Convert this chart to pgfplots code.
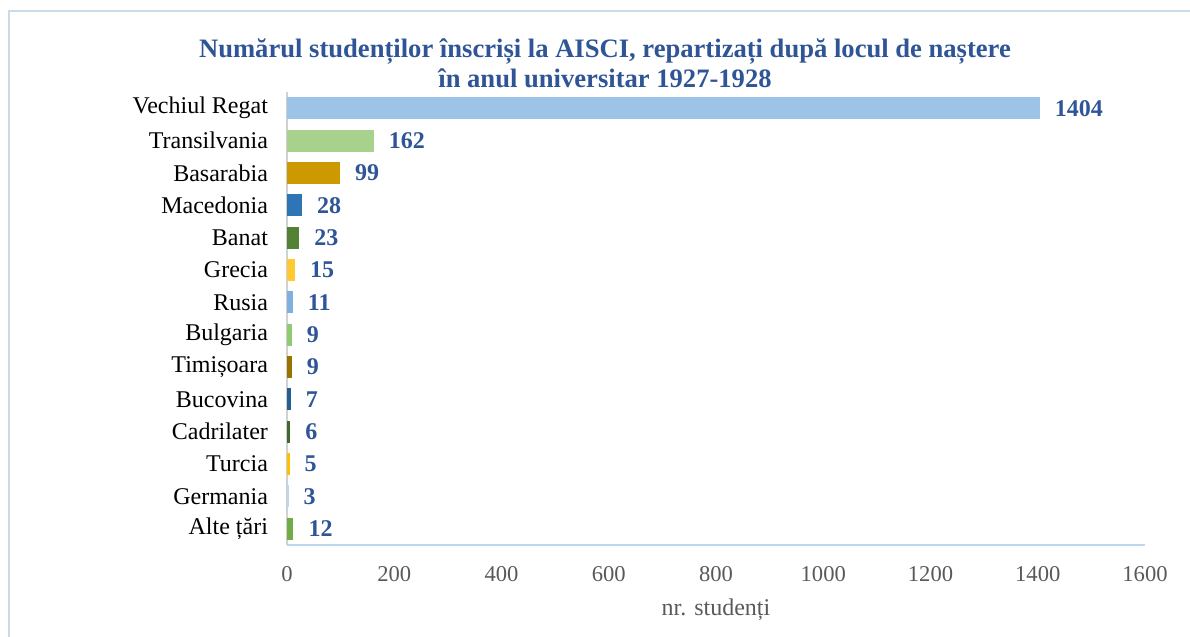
\documentclass[border=0pt]{standalone}
\usepackage{pgfplots}
\pgfplotsset{compat=1.18}
\usepackage{fontspec}
\setmainfont{Liberation Serif}
\definecolor{lbl}{HTML}{2F5597}
\definecolor{tick}{HTML}{595959}
\definecolor{frame}{HTML}{C9DAEA}
\definecolor{c1}{HTML}{9DC3E6}
\definecolor{c2}{HTML}{A9D18E}
\definecolor{c3}{HTML}{CC9900}
\definecolor{c4}{HTML}{2E75B6}
\definecolor{c5}{HTML}{548235}
\definecolor{c6}{HTML}{FFC933}
\definecolor{c7}{HTML}{7EB0E0}
\definecolor{c8}{HTML}{8FCB70}
\definecolor{c9}{HTML}{997300}
\definecolor{c10}{HTML}{255E91}
\definecolor{c11}{HTML}{43682B}
\definecolor{c12}{HTML}{FFC000}
\definecolor{c13}{HTML}{BDD7EE}
\definecolor{c14}{HTML}{70AD47}
\begin{document}
\begin{tikzpicture}
\useasboundingbox (0,0) rectangle (595pt,318.5pt);
\draw[frame, line width=1pt] (4.5pt,0) -- (4.5pt,313pt) -- (595pt,313pt);
\node[align=center, font=\fontsize{13.3}{15}\selectfont\bfseries, text=lbl] at (302.5pt,287pt)
 {Numărul studenților înscriși la AISCI, repartizați după locul de naștere\\în anul universitar 1927-1928};
\begin{axis}[
  at={(143.5pt,46pt)}, anchor=south west,
  scale only axis, width=429pt, height=226.5pt,
  xbar, bar width=0.68,
  xmin=0, xmax=1600,
  ymin=-0.5, ymax=13.5,
  axis x line*=bottom, axis y line*=left,
  x axis line style={draw=c13, line width=0.8pt, -},
  y axis line style={draw=black!18, line width=0.8pt, -},
  xtick={0,200,...,1600},
  ytick={0,...,13},
  yticklabels={Alte țări,Germania,Turcia,Cadrilater,Bucovina,Timișoara,Bulgaria,Rusia,Grecia,Banat,Macedonia,Basarabia,Transilvania,Vechiul Regat},
  major tick length=0pt,
  tick style={draw=none},
  /pgf/number format/assume math mode=true,
  /pgf/number format/1000 sep={},
  xticklabel style={font=\fontsize{11.3}{13}\selectfont, text=tick, yshift=-7pt},
  yticklabel style={font=\fontsize{12}{14}\selectfont, text=black, xshift=-6pt},
  xlabel={nr. studenți},
  xlabel style={font=\fontsize{12}{14}\selectfont, text=tick, yshift=-2pt},
  nodes near coords,
  every node near coord/.append style={font=\fontsize{12}{14}\selectfont\bfseries, text=lbl, anchor=west, xshift=4pt},
  point meta=explicit symbolic,
  clip=false,
]
\addplot[bar shift=0pt, fill=c1, draw=none] coordinates {(1404,13) [1404]};
\addplot[bar shift=0pt, fill=c2, draw=none] coordinates {(162,12) [162]};
\addplot[bar shift=0pt, fill=c3, draw=none] coordinates {(99,11) [99]};
\addplot[bar shift=0pt, fill=c4, draw=none] coordinates {(28,10) [28]};
\addplot[bar shift=0pt, fill=c5, draw=none] coordinates {(23,9) [23]};
\addplot[bar shift=0pt, fill=c6, draw=none] coordinates {(15,8) [15]};
\addplot[bar shift=0pt, fill=c7, draw=none] coordinates {(11,7) [11]};
\addplot[bar shift=0pt, fill=c8, draw=none] coordinates {(9,6) [9]};
\addplot[bar shift=0pt, fill=c9, draw=none] coordinates {(9,5) [9]};
\addplot[bar shift=0pt, fill=c10, draw=none] coordinates {(7,4) [7]};
\addplot[bar shift=0pt, fill=c11, draw=none] coordinates {(6,3) [6]};
\addplot[bar shift=0pt, fill=c12, draw=none] coordinates {(5,2) [5]};
\addplot[bar shift=0pt, fill=c13, draw=none] coordinates {(3,1) [3]};
\addplot[bar shift=0pt, fill=c14, draw=none] coordinates {(12,0) [12]};
\end{axis}
\end{tikzpicture}
\end{document}
